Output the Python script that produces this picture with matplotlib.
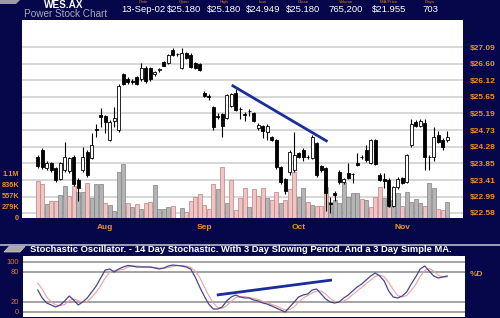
import matplotlib
matplotlib.use('Agg')
import matplotlib.pyplot as plt
import matplotlib.transforms as mtransforms
from matplotlib.lines import Line2D
from matplotlib.patches import Polygon
from matplotlib.ticker import NullLocator
import numpy as np

plt.rcParams['font.family'] = ['Liberation Sans', 'DejaVu Sans']

# Colours
NAVY = '#06064a'
ORANGE = '#f0901c'
GRID = '#d4d4d4'
PINK = '#f0c4c4'
PINK_EDGE = '#c08080'
GREY = '#b4b4b4'
GREY_EDGE = '#808080'
TREND = '#1a2e9a'

# ---- Data ----
OPEN = [24.01, 24.20, 23.72, 23.85, 23.72, 23.44, 23.66, 23.64, 24.01, 23.41,
        23.66, 24.15, 23.98, 24.75, 25.14, 25.11, 24.47, 24.98, 24.73, 26.30,
        26.15, 26.09, 26.21, 26.15, 26.48, 26.48, 26.30, 26.42, 26.65, 26.63,
        27.00, 26.87, 26.48, 26.91, 26.85, 26.62, 26.60, 25.77, 25.66, 25.37,
        25.12, 25.17, 25.06, 25.40, 25.77, 25.32, 25.17, 25.26, 25.19, 24.78,
        24.84, 24.68, 24.55, 24.47, 23.74, 23.44, 23.61, 23.66, 24.12, 24.20,
        24.02, 23.98, 24.39, 23.77, 23.72, 22.82, 23.09, 23.63, 23.35, 23.58,
        23.57, 23.85, 24.02, 24.20, 23.85, 24.47, 23.55, 23.44, 23.42, 22.76,
        23.22, 23.47, 23.35, 24.34, 24.95, 24.84, 24.92, 24.02, 24.01, 24.60,
        24.47, 24.47]
HIGH = [24.07, 24.25, 23.90, 23.88, 23.75, 23.88, 24.42, 24.02, 24.05, 23.45,
        24.28, 24.20, 24.65, 24.90, 25.35, 25.15, 25.00, 25.37, 26.00, 26.33,
        26.20, 26.15, 26.25, 26.63, 26.52, 26.50, 26.40, 26.48, 26.68, 26.88,
        27.06, 26.92, 27.06, 26.95, 26.90, 26.65, 26.62, 25.80, 25.73, 25.40,
        25.19, 25.20, 25.73, 25.77, 25.86, 25.37, 25.22, 25.32, 25.22, 24.92,
        24.87, 24.90, 24.58, 24.50, 23.78, 23.47, 24.20, 24.68, 24.15, 24.25,
        24.07, 24.60, 24.42, 23.80, 23.75, 22.97, 23.14, 23.66, 23.47, 23.85,
        23.60, 24.12, 24.07, 24.34, 24.50, 24.50, 23.58, 23.58, 23.45, 23.25,
        23.50, 23.50, 24.10, 25.03, 25.00, 25.03, 25.03, 24.07, 24.81, 24.70,
        24.52, 24.70]
LOW = [23.72, 23.70, 23.68, 23.63, 23.35, 23.40, 23.63, 23.60, 23.25, 22.89,
       23.62, 23.50, 23.95, 24.55, 24.81, 24.65, 24.44, 24.81, 24.68, 25.98,
       26.00, 26.02, 25.98, 26.10, 26.05, 26.10, 26.25, 26.36, 26.52, 26.60,
       26.83, 26.83, 26.45, 26.73, 26.48, 26.45, 26.40, 25.64, 25.56, 24.73,
       25.03, 24.55, 25.03, 25.37, 25.26, 25.03, 24.98, 25.11, 24.95, 24.72,
       24.52, 24.47, 24.44, 23.70, 23.30, 23.05, 23.55, 23.62, 23.98, 23.90,
       23.95, 23.95, 23.50, 23.63, 22.63, 22.58, 22.89, 23.30, 23.30, 23.44,
       23.33, 23.78, 23.95, 23.88, 23.82, 23.80, 23.38, 23.20, 22.73, 22.73,
       23.18, 23.30, 23.33, 24.28, 24.81, 24.81, 23.66, 23.66, 23.90, 24.38,
       24.20, 24.40]
CLOSE = [23.77, 23.74, 23.85, 23.66, 23.41, 23.85, 24.01, 23.98, 23.30, 23.20,
         24.01, 23.53, 24.34, 24.72, 25.08, 24.95, 24.95, 25.06, 25.95, 26.01,
         26.07, 26.07, 26.01, 26.48, 26.09, 26.15, 26.36, 26.44, 26.54, 26.85,
         26.85, 26.88, 26.91, 26.76, 26.51, 26.48, 26.42, 25.67, 25.64, 24.81,
         25.10, 24.84, 25.70, 25.73, 25.29, 25.30, 25.15, 25.24, 24.98, 24.88,
         24.71, 24.84, 24.47, 23.74, 23.35, 23.14, 24.15, 24.07, 24.01, 24.01,
         24.00, 24.55, 23.53, 23.66, 23.09, 22.80, 23.04, 23.35, 23.44, 23.47,
         23.56, 23.80, 24.00, 23.93, 24.47, 23.82, 23.41, 23.38, 22.76, 23.22,
         23.44, 23.33, 24.07, 24.90, 24.84, 24.98, 24.01, 24.00, 24.55, 24.42,
         24.28, 24.55]
# volume in thousands of shares
VOLUME = [936, 860, 354, 430, 430, 582, 810, 557, 810, 658,
          658, 886, 506, 860, 860, 380, 329, 177, 1164, 1366,
          380, 278, 354, 228, 380, 405, 835, 228, 228, 278,
          304, 0, 253, 152, 430, 531, 607, 329, 228, 860,
          734, 1290, 380, 961, 202, 506, 759, 278, 734, 557,
          759, 506, 455, 658, 380, 455, 734, 1164, 531, 759,
          405, 329, 304, 304, 784, 405, 455, 380, 911, 531,
          632, 632, 481, 455, 278, 531, 784, 506, 278, 455,
          632, 304, 658, 405, 481, 380, 304, 886, 759, 228,
          202, 405]
# 'p' = pink bar, 'g' = grey bar, ten days per chunk
VOL_SHADE = list('ppgppggppg' 'gpgggpgggg' 'pgpgppgggg' 'pggppppppp'
                 'gpgppppgpp' 'pgppgpppgg' 'pgpppggggg' 'ggpgpppgpg'
                 'gpggggpggp' 'pg')
STOCH_K = [44, 28, 18, 14, 10, 14, 22, 32, 24, 14,
           20, 28, 40, 52, 68, 84, 86, 80, 86, 90,
           93, 92, 90, 90, 90, 90, 88, 86, 88, 92,
           94, 93, 92, 90, 86, 70, 50, 32, 16, 6,
           6, 10, 22, 30, 34, 30, 28, 28, 24, 22,
           18, 16, 12, 8, 4, 0, 10, 20, 30, 34,
           36, 44, 46, 36, 26, 20, 18, 20, 28, 34,
           42, 50, 56, 64, 72, 78, 72, 62, 42, 30,
           28, 32, 40, 56, 70, 86, 92, 82, 72, 68,
           70, 72]
STOCH_D = [58, 46, 30, 20, 14, 13, 15, 23, 26, 23,
           19, 21, 29, 40, 53, 68, 79, 83, 84, 85,
           90, 92, 92, 91, 90, 90, 89, 88, 87, 89,
           91, 93, 93, 92, 89, 82, 69, 51, 33, 18,
           9, 7, 13, 21, 29, 31, 31, 29, 27, 25,
           21, 19, 15, 12, 8, 4, 5, 10, 20, 28,
           33, 38, 42, 42, 36, 27, 21, 19, 22, 27,
           35, 42, 49, 57, 64, 71, 74, 71, 59, 45,
           33, 30, 33, 43, 55, 71, 83, 87, 82, 74,
           70, 70]

PRICE_TICKS = [22.58, 22.99, 23.41, 23.85, 24.28, 24.73, 25.19, 25.65, 26.12, 26.60, 27.09]
VOL_TICKS = [0, 278.6, 557.2, 835.8, 1114.4]
VOL_TICK_LABELS = ['0', '279K', '557K', '836K', '1.1M']
MONTHS = ['Aug', 'Sep', 'Oct', 'Nov']
MONTH_START = [15, 37, 58, 81]
STOCH_LEVELS = [0, 20, 80, 100]

PRICE_TREND_X = [43.1, 64.4]
PRICE_TREND_Y = [25.98, 24.42]
STOCH_TREND_X = [39.8, 65.4]
STOCH_TREND_Y = [34, 64]

HEADER_LABELS = ['Date', 'Open', 'High', 'Low', 'Close', 'Volume', 'MA Price', 'Days']
HEADER_VALUES = ['13-Sep-02', '$25.180', '$25.180', '$24.949', '$25.180', '765,200', '$21.955', '703']
HEADER_X = [143, 184, 224, 263, 303, 346, 389, 430]

W, H = 500, 318


def fx(px):
    return px / W


def fy(py):
    return 1 - py / H


fig = plt.figure(figsize=(W / 100, H / 100), dpi=100)
fig.patch.set_facecolor(NAVY)

idx = np.arange(len(CLOSE))

# ---- Price / volume panel ----
main_rect = [fx(22), fy(218), 441 / W, 198 / H]
ax_vol = fig.add_axes(main_rect)
ax_vol.set_facecolor('white')
ax = fig.add_axes(main_rect)
ax.patch.set_visible(False)
ax.set_zorder(ax_vol.get_zorder() + 1)

for a in (ax, ax_vol):
    for s in a.spines.values():
        s.set_visible(False)
    a.set_xlim(-3.5, 94.5)

ax.set_yscale('log')
ax.set_ylim(22.455, 27.905)
ax.yaxis.tick_right()
ax.set_yticks(PRICE_TICKS)
ax.set_yticklabels([f'${p:.2f}' for p in PRICE_TICKS])
ax.yaxis.set_minor_locator(NullLocator())
ax.tick_params(axis='y', length=0, pad=5, labelcolor=ORANGE, labelsize=6)
for t in ax.get_yticklabels():
    t.set_fontweight('bold')
ax.tick_params(axis='x', bottom=False, labelbottom=False)

# price grid drawn behind the volume bars
grid_trans = mtransforms.blended_transform_factory(ax_vol.transAxes, ax.transData)
for p in PRICE_TICKS:
    ax_vol.plot([0, 1], [p, p], transform=grid_trans, color=GRID, lw=1.3, zorder=0)

vol_face = [PINK if s == 'p' else GREY for s in VOL_SHADE]
vol_edge = [PINK_EDGE if s == 'p' else GREY_EDGE for s in VOL_SHADE]
ax_vol.bar(idx, VOLUME, width=0.95, color=vol_face, edgecolor=vol_edge, linewidth=0.5, zorder=2)
ax_vol.set_ylim(0, 5009)
ax_vol.set_yticks(VOL_TICKS)
ax_vol.set_yticklabels(VOL_TICK_LABELS)
ax_vol.tick_params(axis='y', length=0, pad=2, labelcolor=ORANGE, labelsize=5.3)
for t in ax_vol.get_yticklabels():
    t.set_fontweight('bold')
ax_vol.set_xticks(MONTH_START)
ax_vol.set_xticklabels(MONTHS)
ax_vol.tick_params(axis='x', length=0, pad=4.5, labelcolor=ORANGE, labelsize=6)
for t in ax_vol.get_xticklabels():
    t.set_fontweight('bold')

# candles
o = np.array(OPEN)
c = np.array(CLOSE)
ax.vlines(idx, LOW, HIGH, color='black', lw=0.8, zorder=2)
body_low = np.minimum(o, c)
body_h = np.maximum(np.abs(c - o), 0.012)
body_col = ['white' if cc >= oo else 'black' for oo, cc in zip(o, c)]
ax.bar(idx, body_h, bottom=body_low, width=0.72, color=body_col,
       edgecolor='black', linewidth=0.6, zorder=3)

ax.plot(PRICE_TREND_X, PRICE_TREND_Y, color=TREND, lw=2, zorder=4, solid_capstyle='butt')

# ---- Stochastic panel ----
ax_st = fig.add_axes([fx(23), fy(317), 442 / W, 61 / H])
ax_st.set_facecolor('white')
for s in ax_st.spines.values():
    s.set_visible(False)
ax_st.set_xlim(-3.27, 94.96)
ax_st.set_ylim(-10, 112)
for lv in STOCH_LEVELS:
    ax_st.axhline(lv, color='#949494', lw=1.2, zorder=0)
ax_st.plot(idx, STOCH_D, color='#eea0a0', lw=0.8, zorder=2)
ax_st.plot(idx, STOCH_K, color='#45458c', lw=0.9, zorder=3)
ax_st.plot(STOCH_TREND_X, STOCH_TREND_Y, color=TREND, lw=2, zorder=4, solid_capstyle='butt')
ax_st.set_xticks([])
ax_st.set_yticks(STOCH_LEVELS)
ax_st.set_yticklabels([str(v) for v in STOCH_LEVELS])
ax_st.tick_params(axis='y', length=0, pad=3, labelcolor='#e07a30', labelsize=5.5)

fig.text(fx(470), fy(275), '%D', color=ORANGE, fontsize=6, fontweight='bold',
         ha='left', va='center')
fig.text(fx(30), fy(250), 'Stochastic Oscillator. - 14 Day Stochastic. With 3 Day Slowing Period. '
         'And a 3 Day Simple MA.', color='white', fontsize=6.75, fontweight='bold',
         ha='left', va='center')
fig.lines.append(Line2D([fx(29), fx(457)], [fy(255.5), fy(255.5)], transform=fig.transFigure,
                        color='white', lw=0.8))
fig.lines.append(Line2D([0, 1], [fy(245), fy(245)], transform=fig.transFigure,
                        color='#b8b8c8', lw=1.2))
fig.patches.append(Polygon([(fx(4), fy(252)), (fx(9), fy(246.5)), (fx(25), fy(246.5)),
                            (fx(20), fy(252))], closed=True, transform=fig.transFigure,
                           facecolor='#a8a8a8', edgecolor='#d0d0d0', lw=0.5))

# ---- Header ----
fig.patches.append(Polygon([(0, 1), (fx(20), 1), (fx(16), fy(4)), (0, fy(4))], closed=True,
                           transform=fig.transFigure, facecolor='#9a9aaa', edgecolor='none'))
fig.text(fx(44), fy(0.3), 'WES.AX', color='white', fontsize=7.2, fontweight='bold',
         ha='left', va='top')
fig.text(fx(24), fy(14.2), 'Power Stock Chart', color='#a8a8c0', fontsize=7.2,
         ha='left', va='center')
for hx, lab, val in zip(HEADER_X, HEADER_LABELS, HEADER_VALUES):
    fig.text(fx(hx), fy(0.3), lab, color='#e07a20', fontsize=3.2, ha='center', va='top')
    fig.text(fx(hx), fy(9.5), val, color='white', fontsize=6.8, ha='center', va='center')

fig.savefig('out.png', dpi=100, facecolor=NAVY)
